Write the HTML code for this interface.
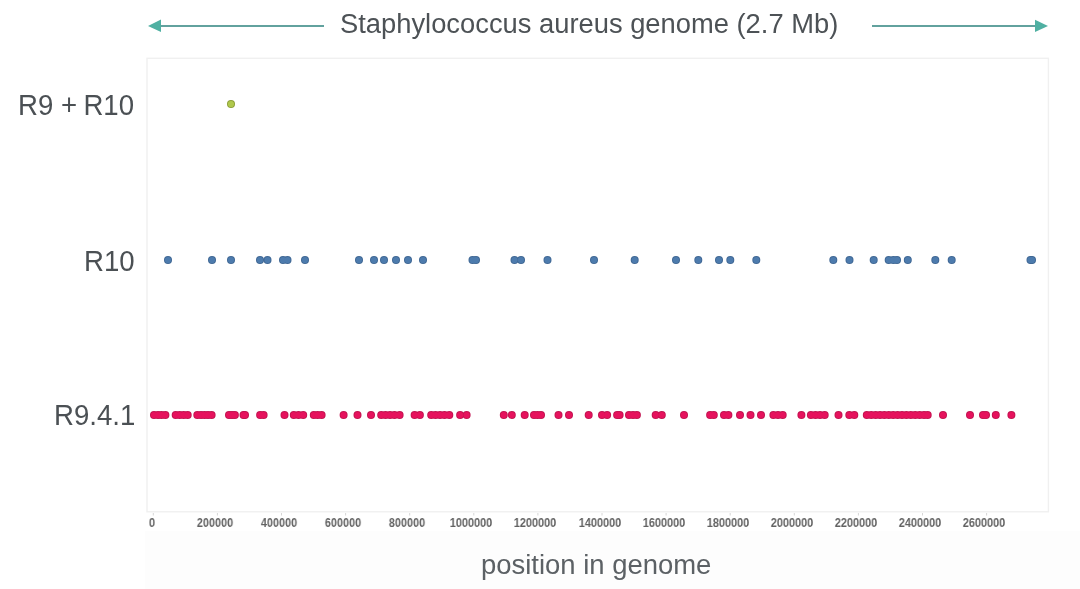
<!DOCTYPE html>
<html><head><meta charset="utf-8">
<style>
html,body{margin:0;padding:0;background:#fff;}
body{width:1080px;height:589px;position:relative;overflow:hidden;font-family:"Liberation Sans",sans-serif;-webkit-font-smoothing:antialiased;}
.t,.rl,.tl{will-change:transform;}
.t{position:absolute;white-space:nowrap;color:#4d5256;}
#title{left:339.8px;top:8px;font-size:27.33px;line-height:30px;transform:scaleY(1.04);transform-origin:0 0;}
.rl{position:absolute;right:945.8px;font-size:27.6px;line-height:30px;color:#4b5054;white-space:nowrap;transform:scaleY(1.04);transform-origin:100% 0;}
#xl{left:480.6px;top:549.3px;font-size:27.45px;line-height:32px;color:#5c6165;}
.tl{position:absolute;top:514.8px;width:80px;text-align:center;font-size:12.6px;line-height:16px;font-weight:bold;color:#626262;transform:scaleX(0.865);}
svg{position:absolute;left:0;top:0;}
</style></head><body>
<svg width="1080" height="589" viewBox="0 0 1080 589">
<rect x="145" y="531" width="935" height="58" fill="#fdfdfd"/>
<rect x="147" y="58.3" width="901.4" height="453.5" fill="none" stroke="#f0f0f0" stroke-width="1.4"/>
<g stroke="#d6d6d6" stroke-width="1"><line x1="153.3" y1="513" x2="153.3" y2="515.5"/><line x1="217.4" y1="513" x2="217.4" y2="515.5"/><line x1="281.5" y1="513" x2="281.5" y2="515.5"/><line x1="345.6" y1="513" x2="345.6" y2="515.5"/><line x1="409.7" y1="513" x2="409.7" y2="515.5"/><line x1="473.8" y1="513" x2="473.8" y2="515.5"/><line x1="537.9" y1="513" x2="537.9" y2="515.5"/><line x1="602.0" y1="513" x2="602.0" y2="515.5"/><line x1="666.1" y1="513" x2="666.1" y2="515.5"/><line x1="730.2" y1="513" x2="730.2" y2="515.5"/><line x1="794.3" y1="513" x2="794.3" y2="515.5"/><line x1="858.4" y1="513" x2="858.4" y2="515.5"/><line x1="922.5" y1="513" x2="922.5" y2="515.5"/><line x1="986.6" y1="513" x2="986.6" y2="515.5"/></g>
<g fill="#62a29e"><rect x="158" y="25" width="166" height="2"/><rect x="872" y="25" width="165" height="2"/></g>
<g fill="#4fb0a2"><polygon points="148,26 161,19.5 161,32"/><polygon points="1048,26 1035,19.8 1035,32"/></g>
<g fill="#c2124f">
<circle cx="154" cy="415" r="4.0"/>
<circle cx="158" cy="415" r="4.0"/>
<circle cx="161.5" cy="415" r="4.0"/>
<circle cx="165.4" cy="415" r="4.0"/>
<circle cx="175.7" cy="415" r="4.0"/>
<circle cx="179.7" cy="415" r="4.0"/>
<circle cx="183.7" cy="415" r="4.0"/>
<circle cx="187.7" cy="415" r="4.0"/>
<circle cx="197.3" cy="415" r="4.0"/>
<circle cx="201" cy="415" r="4.0"/>
<circle cx="204.5" cy="415" r="4.0"/>
<circle cx="208" cy="415" r="4.0"/>
<circle cx="211.6" cy="415" r="4.0"/>
<circle cx="229" cy="415" r="4.0"/>
<circle cx="232" cy="415" r="4.0"/>
<circle cx="234.9" cy="415" r="4.0"/>
<circle cx="243.5" cy="415" r="4.0"/>
<circle cx="245" cy="415" r="4.0"/>
<circle cx="260.1" cy="415" r="4.0"/>
<circle cx="263.6" cy="415" r="4.0"/>
<circle cx="284.5" cy="415" r="4.0"/>
<circle cx="293.8" cy="415" r="4.0"/>
<circle cx="298.5" cy="415" r="4.0"/>
<circle cx="303.2" cy="415" r="4.0"/>
<circle cx="313.8" cy="415" r="4.0"/>
<circle cx="317.7" cy="415" r="4.0"/>
<circle cx="321.6" cy="415" r="4.0"/>
<circle cx="343.6" cy="415" r="4.0"/>
<circle cx="357.5" cy="415" r="4.0"/>
<circle cx="371" cy="415" r="4.0"/>
<circle cx="381.2" cy="415" r="4.0"/>
<circle cx="385.5" cy="415" r="4.0"/>
<circle cx="390" cy="415" r="4.0"/>
<circle cx="394.5" cy="415" r="4.0"/>
<circle cx="399.6" cy="415" r="4.0"/>
<circle cx="414.6" cy="415" r="4.0"/>
<circle cx="419.9" cy="415" r="4.0"/>
<circle cx="431.2" cy="415" r="4.0"/>
<circle cx="435.5" cy="415" r="4.0"/>
<circle cx="440" cy="415" r="4.0"/>
<circle cx="444.5" cy="415" r="4.0"/>
<circle cx="449.3" cy="415" r="4.0"/>
<circle cx="460.1" cy="415" r="4.0"/>
<circle cx="466.6" cy="415" r="4.0"/>
<circle cx="503.8" cy="415" r="4.0"/>
<circle cx="511.8" cy="415" r="4.0"/>
<circle cx="524.7" cy="415" r="4.0"/>
<circle cx="534" cy="415" r="4.0"/>
<circle cx="537.5" cy="415" r="4.0"/>
<circle cx="541" cy="415" r="4.0"/>
<circle cx="558.5" cy="415" r="4.0"/>
<circle cx="569" cy="415" r="4.0"/>
<circle cx="588.7" cy="415" r="4.0"/>
<circle cx="602" cy="415" r="4.0"/>
<circle cx="607.1" cy="415" r="4.0"/>
<circle cx="617.1" cy="415" r="4.0"/>
<circle cx="619.6" cy="415" r="4.0"/>
<circle cx="629" cy="415" r="4.0"/>
<circle cx="633" cy="415" r="4.0"/>
<circle cx="636.9" cy="415" r="4.0"/>
<circle cx="655.7" cy="415" r="4.0"/>
<circle cx="661.8" cy="415" r="4.0"/>
<circle cx="684" cy="415" r="4.0"/>
<circle cx="710.1" cy="415" r="4.0"/>
<circle cx="713.8" cy="415" r="4.0"/>
<circle cx="724" cy="415" r="4.0"/>
<circle cx="728.4" cy="415" r="4.0"/>
<circle cx="740" cy="415" r="4.0"/>
<circle cx="750.5" cy="415" r="4.0"/>
<circle cx="761" cy="415" r="4.0"/>
<circle cx="773.4" cy="415" r="4.0"/>
<circle cx="778" cy="415" r="4.0"/>
<circle cx="782.7" cy="415" r="4.0"/>
<circle cx="801.4" cy="415" r="4.0"/>
<circle cx="810.9" cy="415" r="4.0"/>
<circle cx="815.5" cy="415" r="4.0"/>
<circle cx="820" cy="415" r="4.0"/>
<circle cx="824.7" cy="415" r="4.0"/>
<circle cx="838.5" cy="415" r="4.0"/>
<circle cx="849.3" cy="415" r="4.0"/>
<circle cx="854.3" cy="415" r="4.0"/>
<circle cx="866.8" cy="415" r="4.0"/>
<circle cx="871.2" cy="415" r="4.0"/>
<circle cx="875.6" cy="415" r="4.0"/>
<circle cx="880.0" cy="415" r="4.0"/>
<circle cx="884.4" cy="415" r="4.0"/>
<circle cx="888.8" cy="415" r="4.0"/>
<circle cx="893.2" cy="415" r="4.0"/>
<circle cx="897.6" cy="415" r="4.0"/>
<circle cx="902.0" cy="415" r="4.0"/>
<circle cx="906.4" cy="415" r="4.0"/>
<circle cx="910.8" cy="415" r="4.0"/>
<circle cx="915.2" cy="415" r="4.0"/>
<circle cx="919.6" cy="415" r="4.0"/>
<circle cx="924.0" cy="415" r="4.0"/>
<circle cx="927.7" cy="415" r="4.0"/>
<circle cx="943" cy="415" r="4.0"/>
<circle cx="970" cy="415" r="4.0"/>
<circle cx="983" cy="415" r="4.0"/>
<circle cx="986" cy="415" r="4.0"/>
<circle cx="995.8" cy="415" r="4.0"/>
<circle cx="1011.4" cy="415" r="4.0"/>
</g>
<g fill="#e6125d">
<circle cx="154" cy="415" r="3.1"/>
<circle cx="158" cy="415" r="3.1"/>
<circle cx="161.5" cy="415" r="3.1"/>
<circle cx="165.4" cy="415" r="3.1"/>
<circle cx="175.7" cy="415" r="3.1"/>
<circle cx="179.7" cy="415" r="3.1"/>
<circle cx="183.7" cy="415" r="3.1"/>
<circle cx="187.7" cy="415" r="3.1"/>
<circle cx="197.3" cy="415" r="3.1"/>
<circle cx="201" cy="415" r="3.1"/>
<circle cx="204.5" cy="415" r="3.1"/>
<circle cx="208" cy="415" r="3.1"/>
<circle cx="211.6" cy="415" r="3.1"/>
<circle cx="229" cy="415" r="3.1"/>
<circle cx="232" cy="415" r="3.1"/>
<circle cx="234.9" cy="415" r="3.1"/>
<circle cx="243.5" cy="415" r="3.1"/>
<circle cx="245" cy="415" r="3.1"/>
<circle cx="260.1" cy="415" r="3.1"/>
<circle cx="263.6" cy="415" r="3.1"/>
<circle cx="284.5" cy="415" r="3.1"/>
<circle cx="293.8" cy="415" r="3.1"/>
<circle cx="298.5" cy="415" r="3.1"/>
<circle cx="303.2" cy="415" r="3.1"/>
<circle cx="313.8" cy="415" r="3.1"/>
<circle cx="317.7" cy="415" r="3.1"/>
<circle cx="321.6" cy="415" r="3.1"/>
<circle cx="343.6" cy="415" r="3.1"/>
<circle cx="357.5" cy="415" r="3.1"/>
<circle cx="371" cy="415" r="3.1"/>
<circle cx="381.2" cy="415" r="3.1"/>
<circle cx="385.5" cy="415" r="3.1"/>
<circle cx="390" cy="415" r="3.1"/>
<circle cx="394.5" cy="415" r="3.1"/>
<circle cx="399.6" cy="415" r="3.1"/>
<circle cx="414.6" cy="415" r="3.1"/>
<circle cx="419.9" cy="415" r="3.1"/>
<circle cx="431.2" cy="415" r="3.1"/>
<circle cx="435.5" cy="415" r="3.1"/>
<circle cx="440" cy="415" r="3.1"/>
<circle cx="444.5" cy="415" r="3.1"/>
<circle cx="449.3" cy="415" r="3.1"/>
<circle cx="460.1" cy="415" r="3.1"/>
<circle cx="466.6" cy="415" r="3.1"/>
<circle cx="503.8" cy="415" r="3.1"/>
<circle cx="511.8" cy="415" r="3.1"/>
<circle cx="524.7" cy="415" r="3.1"/>
<circle cx="534" cy="415" r="3.1"/>
<circle cx="537.5" cy="415" r="3.1"/>
<circle cx="541" cy="415" r="3.1"/>
<circle cx="558.5" cy="415" r="3.1"/>
<circle cx="569" cy="415" r="3.1"/>
<circle cx="588.7" cy="415" r="3.1"/>
<circle cx="602" cy="415" r="3.1"/>
<circle cx="607.1" cy="415" r="3.1"/>
<circle cx="617.1" cy="415" r="3.1"/>
<circle cx="619.6" cy="415" r="3.1"/>
<circle cx="629" cy="415" r="3.1"/>
<circle cx="633" cy="415" r="3.1"/>
<circle cx="636.9" cy="415" r="3.1"/>
<circle cx="655.7" cy="415" r="3.1"/>
<circle cx="661.8" cy="415" r="3.1"/>
<circle cx="684" cy="415" r="3.1"/>
<circle cx="710.1" cy="415" r="3.1"/>
<circle cx="713.8" cy="415" r="3.1"/>
<circle cx="724" cy="415" r="3.1"/>
<circle cx="728.4" cy="415" r="3.1"/>
<circle cx="740" cy="415" r="3.1"/>
<circle cx="750.5" cy="415" r="3.1"/>
<circle cx="761" cy="415" r="3.1"/>
<circle cx="773.4" cy="415" r="3.1"/>
<circle cx="778" cy="415" r="3.1"/>
<circle cx="782.7" cy="415" r="3.1"/>
<circle cx="801.4" cy="415" r="3.1"/>
<circle cx="810.9" cy="415" r="3.1"/>
<circle cx="815.5" cy="415" r="3.1"/>
<circle cx="820" cy="415" r="3.1"/>
<circle cx="824.7" cy="415" r="3.1"/>
<circle cx="838.5" cy="415" r="3.1"/>
<circle cx="849.3" cy="415" r="3.1"/>
<circle cx="854.3" cy="415" r="3.1"/>
<circle cx="866.8" cy="415" r="3.1"/>
<circle cx="871.2" cy="415" r="3.1"/>
<circle cx="875.6" cy="415" r="3.1"/>
<circle cx="880.0" cy="415" r="3.1"/>
<circle cx="884.4" cy="415" r="3.1"/>
<circle cx="888.8" cy="415" r="3.1"/>
<circle cx="893.2" cy="415" r="3.1"/>
<circle cx="897.6" cy="415" r="3.1"/>
<circle cx="902.0" cy="415" r="3.1"/>
<circle cx="906.4" cy="415" r="3.1"/>
<circle cx="910.8" cy="415" r="3.1"/>
<circle cx="915.2" cy="415" r="3.1"/>
<circle cx="919.6" cy="415" r="3.1"/>
<circle cx="924.0" cy="415" r="3.1"/>
<circle cx="927.7" cy="415" r="3.1"/>
<circle cx="943" cy="415" r="3.1"/>
<circle cx="970" cy="415" r="3.1"/>
<circle cx="983" cy="415" r="3.1"/>
<circle cx="986" cy="415" r="3.1"/>
<circle cx="995.8" cy="415" r="3.1"/>
<circle cx="1011.4" cy="415" r="3.1"/>
</g>
<g fill="#3f6794">
<circle cx="168" cy="260" r="4.0"/>
<circle cx="212" cy="260" r="4.0"/>
<circle cx="231" cy="260" r="4.0"/>
<circle cx="260" cy="260" r="4.0"/>
<circle cx="267.5" cy="260" r="4.0"/>
<circle cx="283" cy="260" r="4.0"/>
<circle cx="287.5" cy="260" r="4.0"/>
<circle cx="305" cy="260" r="4.0"/>
<circle cx="359" cy="260" r="4.0"/>
<circle cx="374" cy="260" r="4.0"/>
<circle cx="384" cy="260" r="4.0"/>
<circle cx="396" cy="260" r="4.0"/>
<circle cx="408" cy="260" r="4.0"/>
<circle cx="423" cy="260" r="4.0"/>
<circle cx="472.5" cy="260" r="4.0"/>
<circle cx="476" cy="260" r="4.0"/>
<circle cx="514.5" cy="260" r="4.0"/>
<circle cx="521" cy="260" r="4.0"/>
<circle cx="547.5" cy="260" r="4.0"/>
<circle cx="594" cy="260" r="4.0"/>
<circle cx="634.7" cy="260" r="4.0"/>
<circle cx="676" cy="260" r="4.0"/>
<circle cx="698.3" cy="260" r="4.0"/>
<circle cx="719" cy="260" r="4.0"/>
<circle cx="730.3" cy="260" r="4.0"/>
<circle cx="756.3" cy="260" r="4.0"/>
<circle cx="833.3" cy="260" r="4.0"/>
<circle cx="849.5" cy="260" r="4.0"/>
<circle cx="873.7" cy="260" r="4.0"/>
<circle cx="888.7" cy="260" r="4.0"/>
<circle cx="893.3" cy="260" r="4.0"/>
<circle cx="897" cy="260" r="4.0"/>
<circle cx="907.8" cy="260" r="4.0"/>
<circle cx="935.3" cy="260" r="4.0"/>
<circle cx="951.7" cy="260" r="4.0"/>
<circle cx="1030.5" cy="260" r="4.0"/>
<circle cx="1032" cy="260" r="4.0"/>
</g>
<g fill="#4d7bad">
<circle cx="168" cy="260" r="3.1"/>
<circle cx="212" cy="260" r="3.1"/>
<circle cx="231" cy="260" r="3.1"/>
<circle cx="260" cy="260" r="3.1"/>
<circle cx="267.5" cy="260" r="3.1"/>
<circle cx="283" cy="260" r="3.1"/>
<circle cx="287.5" cy="260" r="3.1"/>
<circle cx="305" cy="260" r="3.1"/>
<circle cx="359" cy="260" r="3.1"/>
<circle cx="374" cy="260" r="3.1"/>
<circle cx="384" cy="260" r="3.1"/>
<circle cx="396" cy="260" r="3.1"/>
<circle cx="408" cy="260" r="3.1"/>
<circle cx="423" cy="260" r="3.1"/>
<circle cx="472.5" cy="260" r="3.1"/>
<circle cx="476" cy="260" r="3.1"/>
<circle cx="514.5" cy="260" r="3.1"/>
<circle cx="521" cy="260" r="3.1"/>
<circle cx="547.5" cy="260" r="3.1"/>
<circle cx="594" cy="260" r="3.1"/>
<circle cx="634.7" cy="260" r="3.1"/>
<circle cx="676" cy="260" r="3.1"/>
<circle cx="698.3" cy="260" r="3.1"/>
<circle cx="719" cy="260" r="3.1"/>
<circle cx="730.3" cy="260" r="3.1"/>
<circle cx="756.3" cy="260" r="3.1"/>
<circle cx="833.3" cy="260" r="3.1"/>
<circle cx="849.5" cy="260" r="3.1"/>
<circle cx="873.7" cy="260" r="3.1"/>
<circle cx="888.7" cy="260" r="3.1"/>
<circle cx="893.3" cy="260" r="3.1"/>
<circle cx="897" cy="260" r="3.1"/>
<circle cx="907.8" cy="260" r="3.1"/>
<circle cx="935.3" cy="260" r="3.1"/>
<circle cx="951.7" cy="260" r="3.1"/>
<circle cx="1030.5" cy="260" r="3.1"/>
<circle cx="1032" cy="260" r="3.1"/>
</g>
<g fill="#8c9f36"><circle cx="231" cy="104" r="4.0"/></g>
<g fill="#b0c84c"><circle cx="231" cy="104" r="3.1"/></g>
</svg>
<div class="t" id="title">Staphylococcus aureus genome (2.7 Mb)</div>
<div class="rl" style="top:90px">R9 +<span style="margin-left:-1.3px"></span> R10</div>
<div class="rl" style="top:246px">R10</div>
<div class="rl" style="top:400px;right:945px">R9.4.1</div>
<div class="tl" style="left:112.4px">0</div><div class="tl" style="left:174.8px">200000</div><div class="tl" style="left:238.9px">400000</div><div class="tl" style="left:303.0px">600000</div><div class="tl" style="left:367.2px">800000</div><div class="tl" style="left:431.3px">1000000</div><div class="tl" style="left:495.4px">1200000</div><div class="tl" style="left:559.5px">1400000</div><div class="tl" style="left:623.6px">1600000</div><div class="tl" style="left:687.8px">1800000</div><div class="tl" style="left:751.9px">2000000</div><div class="tl" style="left:816.0px">2200000</div><div class="tl" style="left:880.1px">2400000</div><div class="tl" style="left:944.2px">2600000</div>
<div class="t" id="xl">position in genome</div>
</body></html>
